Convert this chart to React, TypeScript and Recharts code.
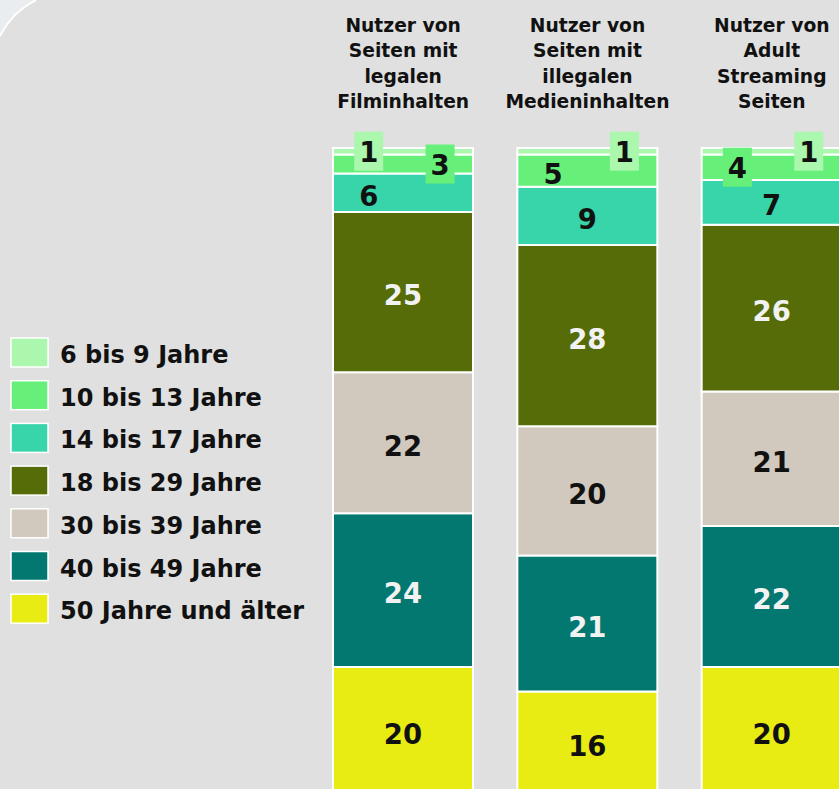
import React from "react";
import { BarChart, Bar, XAxis, YAxis, Legend, LabelList } from "recharts";

const categories = ["legal", "illegal", "adult"];
const titleLines = [
  ["Nutzer von", "Seiten mit", "legalen", "Filminhalten"],
  ["Nutzer von", "Seiten mit", "illegalen", "Medieninhalten"],
  ["Nutzer von", "Adult", "Streaming", "Seiten"],
];
const ageGroups = [
  "6 bis 9 Jahre",
  "10 bis 13 Jahre",
  "14 bis 17 Jahre",
  "18 bis 29 Jahre",
  "30 bis 39 Jahre",
  "40 bis 49 Jahre",
  "50 Jahre und älter",
];
const colors = ["#aaf7ad", "#66f079", "#38d5ab", "#566c08", "#d1c9bd", "#037870", "#e8ec13"];
const legalUsers = [1, 3, 6, 25, 22, 24, 20];
const illegalUsers = [1, 5, 9, 28, 20, 21, 16];
const adultUsers = [1, 4, 7, 26, 21, 22, 20];
const seriesByCategory = [legalUsers, illegalUsers, adultUsers];

// where the small numbers sit: l/r/c = left, right, centre; b = with a coloured box
const labelSpots = [
  ["lb", "rb", "rb"],
  ["rb", "l", "lb"],
  ["l", "c", "c"],
];
const lightText = [false, false, false, true, false, true, false];

const FONT = "'DejaVu Sans', Verdana, sans-serif";

const data = categories.map((c, i) => {
  const row: any = { name: c };
  ageGroups.forEach((_, j) => {
    row["g" + j] = seriesByCategory[i][j];
  });
  return row;
});

function TitleTick({ x, y, payload }: any) {
  const lines = titleLines[categories.indexOf(payload.value)] || [];
  return (
    <text x={x} textAnchor="middle" fontFamily={FONT} fontWeight="bold" fontSize={18.7} fill="#111">
      {lines.map((l, k) => (
        <tspan key={k} x={x} y={y - 40 - (lines.length - 1 - k) * 25.3}>
          {l}
        </tspan>
      ))}
    </text>
  );
}

const makeLabel = (s: number) => (props: any) => {
  const vb = props.viewBox || props;
  const { x, y, width, height } = vb;
  const i = props.index;
  if (i == null || x == null) return null;
  const value = seriesByCategory[i][s];
  const spot = s < labelSpots.length ? labelSpots[s][i] : "c";
  const cx = spot[0] === "l" ? x + width * 0.255 : spot[0] === "r" ? x + width * 0.765 : x + width / 2;
  const cy = y + height / 2;
  const boxed = spot.length > 1;
  return (
    <g>
      {boxed && <rect x={cx - 14.5} y={cy - 19.5} width={29} height={39} fill={colors[s]} />}
      <text
        x={cx}
        y={cy + (boxed ? 1 : 3) + 10}
        textAnchor="middle"
        fontFamily={FONT}
        fontWeight="bold"
        fontSize={27.5}
        fill={lightText[s] ? "#f2f2f2" : "#111"}
      >
        {value}
      </text>
    </g>
  );
};

function LegendBox() {
  return (
    <svg width={320} height={300}>
      {ageGroups.map((g, i) => (
        <g key={g}>
          <rect x={11} y={8 + i * 42.7} width={37} height={29} fill={colors[i]} stroke="#fff" strokeWidth={1.5} />
          <text x={60} y={33 + i * 42.7} fontFamily={FONT} fontWeight="bold" fontSize={24} fill="#111">
            {g}
          </text>
        </g>
      ))}
    </svg>
  );
}

export default function App() {
  const order = ageGroups.map((_, j) => ageGroups.length - 1 - j);
  return (
    <div
      style={{
        position: "absolute",
        left: 0,
        top: 0,
        width: 839,
        height: 789,
        overflow: "hidden",
        background: "#dfe0df",
      }}
    >
      <svg width={60} height={60} style={{ position: "absolute", left: 0, top: 0 }}>
        <path d="M0,0 L36,0 Q12,12 0,36 Z" fill="#e9edef" />
        <path d="M0,36 Q12,12 36,0" fill="none" stroke="#fff" strokeWidth={2} />
      </svg>
      <div style={{ position: "absolute", left: 0, top: 0 }}>
        <BarChart
          width={900}
          height={800}
          data={data}
          stackOffset="expand"
          barSize={140}
          margin={{ top: 0, right: 36, bottom: 5, left: 311 }}
        >
          <XAxis
            dataKey="name"
            orientation="top"
            height={148}
            axisLine={false}
            tickLine={false}
            tickSize={0}
            tickMargin={0}
            interval={0}
            tick={<TitleTick />}
          />
          <YAxis hide domain={[0, 1]} />
          <Legend
            layout="horizontal"
            verticalAlign="middle"
            align="center"
            wrapperStyle={{ left: 0, top: 330, width: 320, height: 300 }}
            content={() => <LegendBox />}
          />
          {order.map((s) => (
            <Bar
              key={s}
              dataKey={"g" + s}
              stackId="a"
              fill={colors[s]}
              stroke="#fff"
              strokeWidth={2}
              isAnimationActive={false}
            >
              <LabelList content={makeLabel(s)} />
            </Bar>
          ))}
        </BarChart>
      </div>
    </div>
  );
}
